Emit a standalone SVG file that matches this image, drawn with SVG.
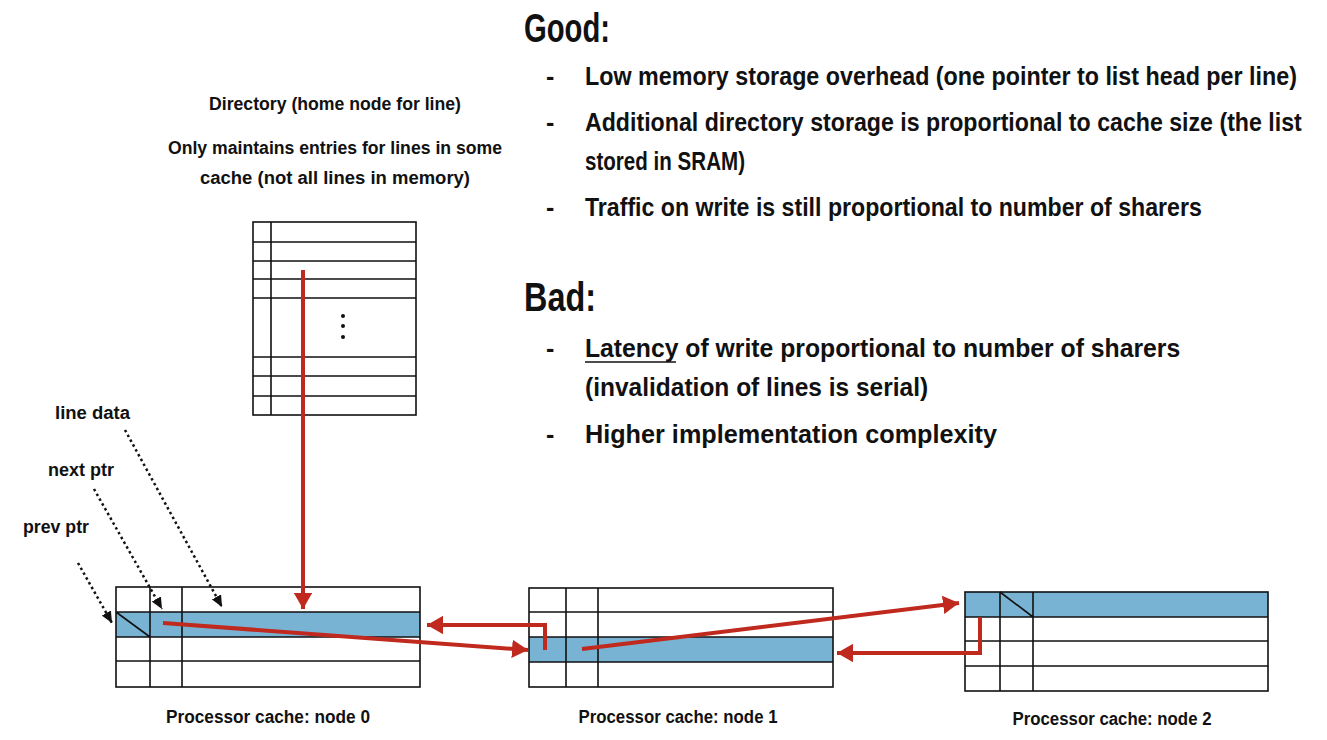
<svg xmlns="http://www.w3.org/2000/svg" width="1327" height="740" viewBox="0 0 1327 740">
<defs>
<marker id="redHead" viewBox="0 0 10 10" markerWidth="4" markerHeight="4.6" refX="10" refY="5" orient="auto" markerUnits="strokeWidth" preserveAspectRatio="none">
<path d="M0,0 L10,5 L0,10 Z" fill="#c0291d"/>
</marker>
<marker id="blackHead" viewBox="0 0 10 10" markerWidth="4.6" markerHeight="4.2" refX="10" refY="5" orient="auto" markerUnits="strokeWidth" preserveAspectRatio="none">
<path d="M0,0 L10,5 L0,10 Z" fill="#111"/>
</marker>
</defs>
<style>
.t{font-family:"Liberation Sans",Arial,sans-serif;font-weight:bold;fill:#111}
.h{font-size:40px}
.b{font-size:25px}
.s{font-size:18px}
.grid{fill:none;stroke:#111;stroke-width:1.6}
.blue{fill:#79b3d4}
.red{fill:none;stroke:#c0291d;stroke-width:4;stroke-linejoin:miter}
.dot{fill:none;stroke:#111;stroke-width:2.5;stroke-dasharray:2.5 3}
</style>
<rect width="1327" height="740" fill="#fff"/>

<g id="good">
<text class="t h" x="524" y="42" textLength="86" lengthAdjust="spacingAndGlyphs">Good:</text>
<text class="t b" x="546" y="85">-</text>
<text class="t b" x="546" y="131">-</text>
<text class="t b" x="546" y="216">-</text>
<g transform="translate(585,0) scale(0.8,1)">
<text class="t b" x="0" y="85" textLength="890" lengthAdjust="spacingAndGlyphs">Low memory storage overhead (one pointer to list head per line)</text>
<text class="t b" x="0" y="131" textLength="896" lengthAdjust="spacingAndGlyphs">Additional directory storage is proportional to cache size (the list</text>
<text class="t b" x="0" y="170" textLength="200" lengthAdjust="spacingAndGlyphs">stored in SRAM)</text>
<text class="t b" x="0" y="216" textLength="771" lengthAdjust="spacingAndGlyphs">Traffic on write is still proportional to number of sharers</text>
</g>
</g>

<g id="bad">
<text class="t h" x="524" y="311" textLength="72" lengthAdjust="spacingAndGlyphs">Bad:</text>
<text class="t b" x="546" y="357">-</text>
<text class="t b" x="546" y="443">-</text>
<g transform="translate(585,0) scale(0.8,1)">
<text class="t b" x="0" y="357" textLength="744" lengthAdjust="spacingAndGlyphs">Latency of write proportional to number of sharers</text>
<text class="t b" x="0" y="396" textLength="429" lengthAdjust="spacingAndGlyphs">(invalidation of lines is serial)</text>
<text class="t b" x="0" y="443" textLength="515" lengthAdjust="spacingAndGlyphs">Higher implementation complexity</text>
</g>
<line x1="585" y1="362" x2="676" y2="362" stroke="#111" stroke-width="1.6"/>
</g>

<g id="directory-labels">
<text class="t s" x="335" y="110" text-anchor="middle" textLength="252" lengthAdjust="spacingAndGlyphs">Directory (home node for line)</text>
<text class="t s" x="335" y="154" text-anchor="middle" textLength="334" lengthAdjust="spacingAndGlyphs">Only maintains entries for lines in some</text>
<text class="t s" x="335" y="184" text-anchor="middle" textLength="270" lengthAdjust="spacingAndGlyphs">cache (not all lines in memory)</text>
</g>

<g id="directory">
<rect class="grid" x="253" y="222" width="163" height="193"/>
<path class="grid" d="M271,222 V415 M253,242 H416 M253,261 H416 M253,279 H416 M253,298 H416 M253,357 H416 M253,376 H416 M253,396 H416"/>
<circle cx="343" cy="316" r="2" fill="#111"/>
<circle cx="343" cy="326" r="2" fill="#111"/>
<circle cx="343" cy="337" r="2" fill="#111"/>
</g>

<g id="field-labels">
<text class="t s" x="55" y="419" textLength="75" lengthAdjust="spacingAndGlyphs">line data</text>
<text class="t s" x="48" y="476" textLength="66" lengthAdjust="spacingAndGlyphs">next ptr</text>
<text class="t s" x="23" y="533" textLength="66" lengthAdjust="spacingAndGlyphs">prev ptr</text>
</g>

<g id="node0">
<rect class="blue" x="116" y="612" width="304" height="25"/>
<rect class="grid" x="116" y="587" width="304" height="100"/>
<path class="grid" d="M116,612 H420 M116,637 H420 M116,661 H420 M150,587 V687 M182,587 V687 M116,612 L150,637"/>
<text class="t s" x="268" y="723" text-anchor="middle" textLength="204" lengthAdjust="spacingAndGlyphs">Processor cache: node 0</text>
</g>

<g id="node1">
<rect class="blue" x="529" y="637" width="304" height="25"/>
<rect class="grid" x="529" y="588" width="304" height="99"/>
<path class="grid" d="M529,612 H833 M529,637 H833 M529,662 H833 M566,588 V687 M598,588 V687"/>
<text class="t s" x="678" y="723" text-anchor="middle" textLength="199" lengthAdjust="spacingAndGlyphs">Processor cache: node 1</text>
</g>

<g id="node2">
<rect class="blue" x="965" y="592" width="303" height="25"/>
<rect class="grid" x="965" y="592" width="303" height="99"/>
<path class="grid" d="M965,617 H1268 M965,641 H1268 M965,666 H1268 M1000,592 V691 M1033,592 V691 M1000,592 L1033,617"/>
<text class="t s" x="1112" y="725" text-anchor="middle" textLength="199" lengthAdjust="spacingAndGlyphs">Processor cache: node 2</text>
</g>

<g id="connectors">
<path class="red" d="M303,270 V609" marker-end="url(#redHead)"/>
<path class="red" d="M163,623 L528,650" marker-end="url(#redHead)"/>
<path class="red" d="M545,650 V625 H427" marker-end="url(#redHead)"/>
<path class="red" d="M582,649 L959,603" marker-end="url(#redHead)"/>
<path class="red" d="M980,617 V653 H837" marker-end="url(#redHead)"/>
<path class="dot" d="M125,430 L222,607" marker-end="url(#blackHead)"/>
<path class="dot" d="M94,489 L162,609" marker-end="url(#blackHead)"/>
<path class="dot" d="M78,563 L112,623" marker-end="url(#blackHead)"/>
</g>
</svg>
